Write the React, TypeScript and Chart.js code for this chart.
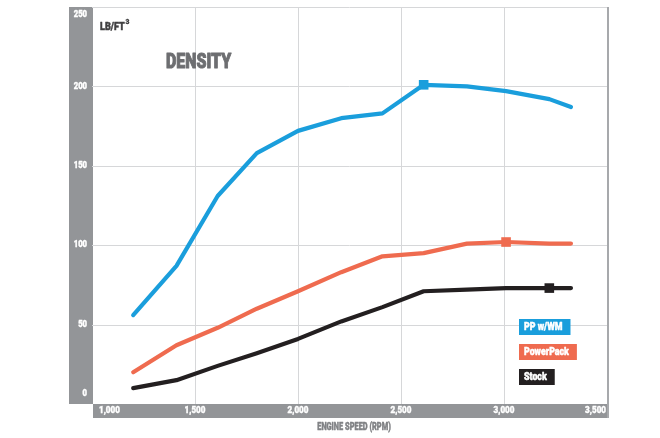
import React, { useEffect, useRef } from "react";
import { Chart, registerables } from "chart.js";

Chart.register(...registerables);

// ---- data ----
const rpm = [1200, 1410, 1610, 1800, 2000, 2210, 2410, 2610, 2820, 3010, 3220, 3325];
const ppWm = [56, 87, 131, 158, 172, 180, 183, 201, 200, 197, 192, 187];
const powerPack = [20, 37, 48, 60, 71, 83, 93, 95, 101, 102, 101, 101];
const stock = [10, 15, 24, 32, 41, 52, 61, 71, 72, 73, 73, 73];

const seriesNames = ["PP w/WM", "PowerPack", "Stock"];
const seriesColors = ["#1a9edc", "#ef6b4f", "#231f20"];
const markerIndex = [7, 9, 10];

const yTicks = [0, 50, 100, 150, 200, 250];
const xTicks = [1000, 1500, 2000, 2500, 3000, 3500];
const xTickLabels = ["1,000", "1,500", "2,000", "2,500", "3,000", "3,500"];
const chartTitle = "DENSITY";
const unitLabel = "LB/FT";
const unitSup = "3";
const xTitle = "ENGINE SPEED (RPM)";

const FONT = 'Roboto, "DejaVu Sans", sans-serif';

function drawText(
  ctx: CanvasRenderingContext2D,
  s: string,
  x: number,
  y: number,
  size: number,
  color: string,
  align: CanvasTextAlign,
  sx = 0.82,
  stroke = 0.5
) {
  ctx.save();
  ctx.font = `900 ${size}px ${FONT}`;
  ctx.fillStyle = color;
  ctx.strokeStyle = color;
  ctx.lineWidth = stroke;
  ctx.lineJoin = "round";
  ctx.textBaseline = "middle";
  ctx.textAlign = align;
  ctx.translate(x, y);
  ctx.scale(sx, 1);
  ctx.fillText(s, 0, 0);
  if (stroke > 0) ctx.strokeText(s, 0, 0);
  ctx.restore();
}

function textWidth(ctx: CanvasRenderingContext2D, s: string, size: number, sx = 0.82) {
  ctx.save();
  ctx.font = `900 ${size}px ${FONT}`;
  const w = ctx.measureText(s).width * sx;
  ctx.restore();
  return w;
}

const decorPlugin = {
  id: "decor",
  beforeDraw(chart: any) {
    const ctx = chart.ctx as CanvasRenderingContext2D;
    ctx.save();
    ctx.fillStyle = "#ffffff";
    ctx.fillRect(0, 0, chart.width, chart.height);
    ctx.restore();
  },
  beforeDatasetsDraw(chart: any) {
    const ctx = chart.ctx as CanvasRenderingContext2D;
    const { left, right, top, bottom } = chart.chartArea;
    const xs = chart.scales.x;
    const ys = chart.scales.y;
    const band = "#939598";

    ctx.save();
    // axis bands
    ctx.fillStyle = band;
    ctx.fillRect(69, top, left - 69 + 1, bottom - top);
    ctx.fillRect(left + 1, bottom, right - left + 1, 14);

    // grid lines
    ctx.strokeStyle = "#d6d7d9";
    ctx.lineWidth = 1;
    yTicks.forEach((v) => {
      if (v === 0) return;
      const y = Math.round(ys.getPixelForValue(v)) + 0.5;
      ctx.beginPath();
      ctx.moveTo(left, y);
      ctx.lineTo(right, y);
      ctx.stroke();
    });
    xTicks.forEach((v, i) => {
      if (i === 0 || i === xTicks.length - 1) return;
      const x = Math.round(xs.getPixelForValue(v)) + 0.5;
      ctx.beginPath();
      ctx.moveTo(x, top);
      ctx.lineTo(x, bottom);
      ctx.stroke();
    });
    // right border
    ctx.strokeStyle = "#a7a9ac";
    ctx.lineWidth = 2;
    ctx.beginPath();
    ctx.moveTo(right + 1, top);
    ctx.lineTo(right + 1, bottom + 14);
    ctx.stroke();
    ctx.restore();

    // y tick labels
    yTicks.forEach((v) => {
      let y = ys.getPixelForValue(v);
      if (v === yTicks[yTicks.length - 1]) y = top + 8;
      if (v === 0) y = bottom - 10;
      drawText(ctx, String(v), 87, y, 9, "#ffffff", "right", 0.85, 0.4);
    });
    // x tick labels
    xTicks.forEach((v, i) => {
      const x = xs.getPixelForValue(v);
      const y = bottom + 7;
      if (i === 0) drawText(ctx, xTickLabels[i], x + 7, y, 9.5, "#ffffff", "left", 0.85, 0.4);
      else if (i === xTicks.length - 1)
        drawText(ctx, xTickLabels[i], x - 1, y, 9.5, "#ffffff", "right", 0.85, 0.4);
      else drawText(ctx, xTickLabels[i], x, y, 9.5, "#ffffff", "center", 0.85, 0.4);
    });

    // titles
    drawText(ctx, chartTitle, 166, 63, 21, "#6d6e71", "left", 0.76, 1);
    drawText(ctx, unitLabel, 100, 27, 11, "#414042", "left", 0.82, 0.5);
    const uw = textWidth(ctx, unitLabel, 11, 0.82);
    drawText(ctx, unitSup, 100 + uw + 0.8, 22, 7.5, "#414042", "left", 0.9, 0.3);
    drawText(ctx, xTitle, 354, 427, 10, "#808285", "center", 0.74, 0.45);
  },
  afterDatasetsDraw(chart: any) {
    const ctx = chart.ctx as CanvasRenderingContext2D;
    const bx = 519;
    const tops = [319, 344, 369];
    seriesNames.forEach((name, i) => {
      const w = textWidth(ctx, name, 11, 0.8);
      ctx.save();
      ctx.fillStyle = seriesColors[i];
      ctx.fillRect(bx, tops[i], w + 13, 16);
      ctx.restore();
      drawText(ctx, name, bx + 5, tops[i] + 8.5, 11, "#ffffff", "left", 0.8, 0.5);
    });
  },
};

export default function App() {
  const ref = useRef<HTMLCanvasElement | null>(null);

  useEffect(() => {
    if (!ref.current) return;
    const series = [ppWm, powerPack, stock];
    const chart = new Chart(ref.current, {
      type: "line",
      data: {
        datasets: series.map((vals, si) => ({
          label: seriesNames[si],
          data: rpm.map((x, i) => ({ x, y: vals[i] })),
          borderColor: seriesColors[si],
          backgroundColor: seriesColors[si],
          borderWidth: 4.2,
          borderCapStyle: "round" as const,
          borderJoinStyle: "round" as const,
          tension: 0,
          pointStyle: "rect" as const,
          pointRadius: (c: any) => (c.dataIndex === markerIndex[si] ? 6.8 : 0),
          pointHoverRadius: 0,
          pointBorderWidth: 0,
          fill: false,
        })),
      },
      options: {
        animation: false,
        responsive: false,
        devicePixelRatio: 1,
        layout: { padding: { left: 92, right: 53, top: 7, bottom: 34 } },
        scales: {
          x: { type: "linear", min: 1000, max: 3500, display: false },
          y: { type: "linear", min: 0, max: 250, display: false },
        },
        plugins: {
          legend: { display: false },
          tooltip: { enabled: false },
          title: { display: false },
        },
      },
      plugins: [decorPlugin],
    });
    return () => chart.destroy();
  }, []);

  return (
    <div style={{ position: "absolute", left: 0, top: 0, width: 660, height: 438 }}>
      <canvas ref={ref} width={660} height={438} style={{ display: "block" }} />
    </div>
  );
}
